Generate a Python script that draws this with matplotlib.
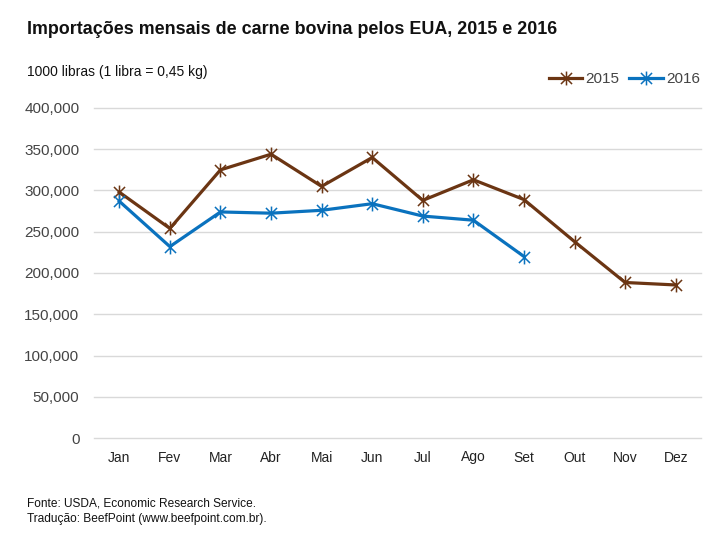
import matplotlib
matplotlib.use("Agg")
import matplotlib.pyplot as plt
from matplotlib.path import Path
from matplotlib.ticker import FuncFormatter

plt.rcParams['font.family'] = ['Liberation Sans', 'DejaVu Sans']

months = ["Jan", "Fev", "Mar", "Abr", "Mai", "Jun", "Jul", "Ago", "Set", "Out", "Nov", "Dez"]
imports_2015 = [298000, 254000, 325000, 344000, 305000, 340000, 288000, 313000, 289000, 238000, 188500, 185500]
imports_2016 = [287000, 232000, 274000, 272500, 276000, 284000, 269000, 264000, 220000]
yticks = [0, 50000, 100000, 150000, 200000, 250000, 300000, 350000, 400000]

c2015 = "#6B3513"
c2016 = "#0A72BE"

star = Path([(-1, -1), (1, 1), (-1, 1), (1, -1), (0, -1.25), (0, 1.25)],
            [Path.MOVETO, Path.LINETO, Path.MOVETO, Path.LINETO, Path.MOVETO, Path.LINETO])

fig = plt.figure(figsize=(7.2, 5.34), dpi=100)
ax = fig.add_axes([94/720, 1 - 438/534, (701 - 94)/720, (438 - 108)/534])

x15 = list(range(len(imports_2015)))
x16 = list(range(len(imports_2016)))
ax.plot(x15, imports_2015, color=c2015, lw=2.3, marker=star, ms=10, mew=1.1,
        mec=c2015, label="2015", zorder=3)
ax.plot(x16, imports_2016, color=c2016, lw=2.3, marker=star, ms=10, mew=1.1,
        mec=c2016, label="2016", zorder=3)

ax.set_xlim(-0.5, len(months) - 0.5)
ax.set_ylim(0, 400000)
ax.set_xticks(range(len(months)))
ax.set_xticklabels(months)
ax.set_yticks(yticks)
ax.yaxis.set_major_formatter(FuncFormatter(lambda v, p: f"{int(v):,}"))
ax.tick_params(axis='y', length=0, pad=10.5, labelsize=11, labelcolor="#444444")
ax.tick_params(axis='x', length=0, pad=9, labelsize=10, labelcolor="#222222")
ax.grid(axis='y', color="#d9d9d9", lw=1)
for gl in ax.get_ygridlines():
    gl.set_clip_on(False)
ax.set_axisbelow(True)
for s in ax.spines.values():
    s.set_visible(False)

leg = fig.legend(loc="center right", bbox_to_anchor=(700/720, 1 - 79/534), ncol=2,
                 frameon=False, handlelength=2.2, handletextpad=0.2, columnspacing=0.65,
                 fontsize=11, labelcolor="#444444", borderpad=0, borderaxespad=0)

fig.text(27/720, 1 - 29/534, "Importações mensais de carne bovina pelos EUA, 2015 e 2016",
         fontsize=12.9, fontweight="bold", va="center", ha="left", color="#111111")
fig.text(27/720, 1 - 72/534, "1000 libras (1 libra = 0,45 kg)",
         fontsize=10, va="center", ha="left", color="#111111")
fig.text(27/720, 1 - 503/534, "Fonte: USDA, Economic Research Service.",
         fontsize=8.6, va="center", ha="left", color="#111111")
fig.text(27/720, 1 - 519/534, "Tradução: BeefPoint (www.beefpoint.com.br).",
         fontsize=8.6, va="center", ha="left", color="#111111")

fig.savefig("out.png", dpi=100, facecolor="white")
